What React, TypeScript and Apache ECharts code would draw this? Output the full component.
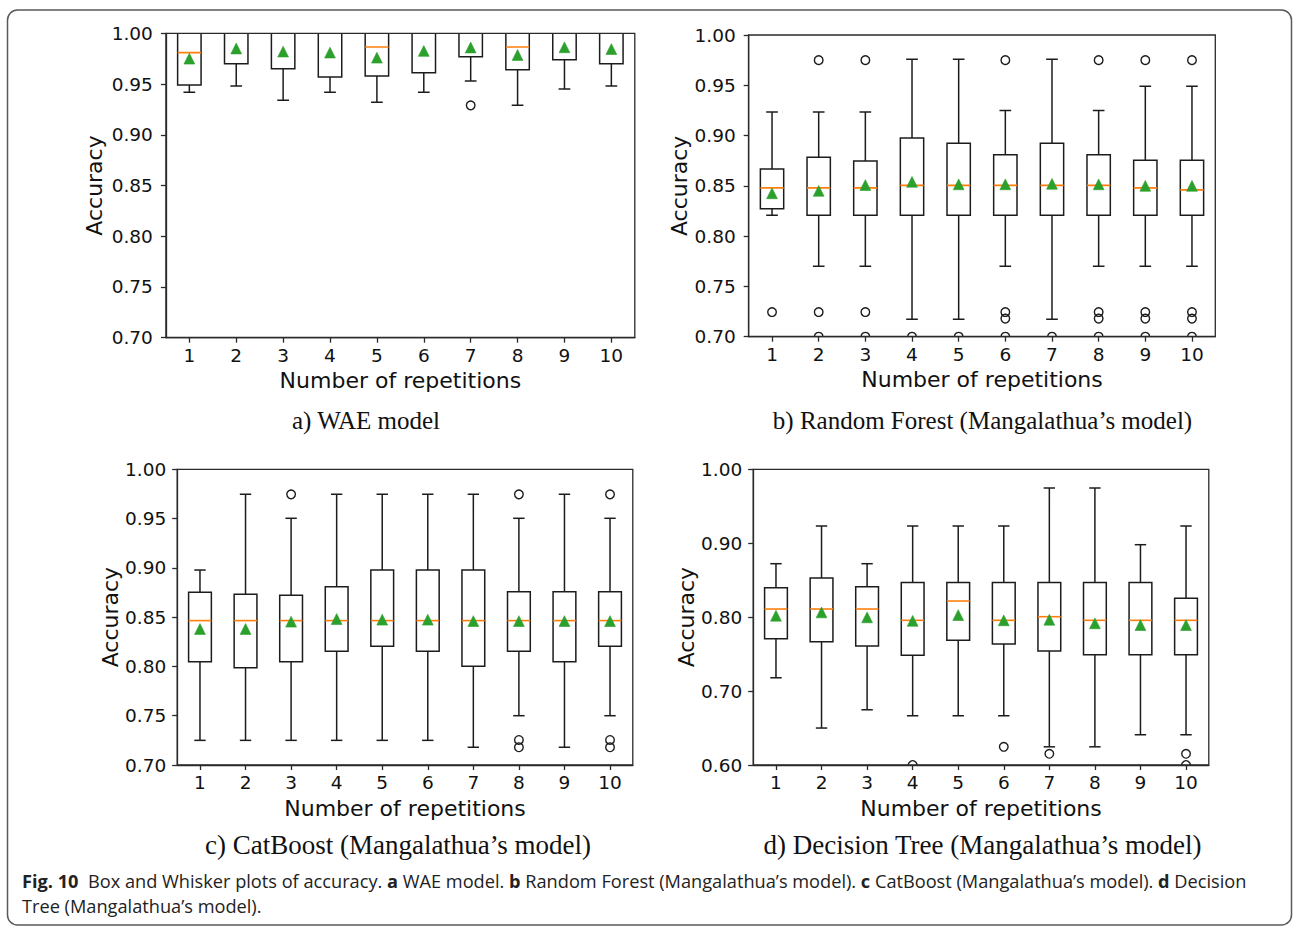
import React, { useEffect, useRef } from 'react';
import * as echarts from 'echarts';

// ---------- data ----------
const categories = ['1', '2', '3', '4', '5', '6', '7', '8', '9', '10'];
const yTicksTop = ['0.70', '0.75', '0.80', '0.85', '0.90', '0.95', '1.00'];
const yTicksDT = ['0.60', '0.70', '0.80', '0.90', '1.00'];

// a) WAE model
const waeLow = [0.942, 0.948, 0.934, 0.942, 0.932, 0.942, 0.953, 0.929, 0.945, 0.948];
const waeQ1 = [0.949, 0.970, 0.965, 0.957, 0.958, 0.961, 0.977, 0.964, 0.974, 0.970];
const waeMedian = [0.981, 1.0, 1.0, 1.0, 0.9865, 1.0, 1.0, 0.9865, 1.0, 1.0];
const waeQ3 = [1.0, 1.0, 1.0, 1.0, 1.0, 1.0, 1.0, 1.0, 1.0, 1.0];
const waeHigh = [1.0, 1.0, 1.0, 1.0, 1.0, 1.0, 1.0, 1.0, 1.0, 1.0];
const waeMean = [0.975, 0.985, 0.982, 0.981, 0.976, 0.9826, 0.986, 0.9786, 0.9862, 0.9845];
const waeOutliers = [[7, 0.929]]; // [repetition, accuracy]

// b) Random Forest
const rfLow = [0.8207, 0.770, 0.770, 0.7173, 0.7173, 0.770, 0.7173, 0.770, 0.770, 0.770];
const rfQ1 = [0.8273, 0.8207, 0.8207, 0.8207, 0.8207, 0.8207, 0.8207, 0.8207, 0.8207, 0.8207];
const rfMedian = [0.848, 0.848, 0.848, 0.8505, 0.8505, 0.8505, 0.8505, 0.8505, 0.848, 0.846];
const rfQ3 = [0.8667, 0.8784, 0.8747, 0.8976, 0.8923, 0.881, 0.8923, 0.881, 0.8754, 0.8754];
const rfHigh = [0.9234, 0.9234, 0.9234, 0.9758, 0.9758, 0.925, 0.9758, 0.925, 0.949, 0.949];
const rfMean = [0.8426, 0.845, 0.8508, 0.854, 0.8515, 0.8515, 0.852, 0.8515, 0.850, 0.850];
const rfOutliers = [
  [1, 0.7245],
  [2, 0.975], [2, 0.7245], [2, 0.70],
  [3, 0.975], [3, 0.7245], [3, 0.70],
  [4, 0.70],
  [5, 0.70],
  [6, 0.975], [6, 0.7245], [6, 0.718], [6, 0.70],
  [7, 0.70],
  [8, 0.975], [8, 0.7245], [8, 0.718], [8, 0.70],
  [9, 0.975], [9, 0.7245], [9, 0.718], [9, 0.70],
  [10, 0.975], [10, 0.7245], [10, 0.718], [10, 0.70],
];

// c) CatBoost
const cbLow = [0.725, 0.725, 0.725, 0.725, 0.725, 0.725, 0.718, 0.75, 0.718, 0.75];
const cbQ1 = [0.8048, 0.7987, 0.8048, 0.8153, 0.8204, 0.8153, 0.8001, 0.8153, 0.8048, 0.8204];
const cbMedian = [0.8465, 0.8465, 0.8465, 0.8465, 0.8465, 0.8465, 0.8465, 0.8465, 0.8465, 0.8465];
const cbQ3 = [0.8752, 0.8732, 0.8722, 0.8809, 0.8978, 0.8978, 0.8978, 0.8758, 0.8758, 0.8758];
const cbHigh = [0.8978, 0.9746, 0.9503, 0.9746, 0.9746, 0.9746, 0.9746, 0.9503, 0.9746, 0.9503];
const cbMean = [0.838, 0.838, 0.8454, 0.8481, 0.8474, 0.8474, 0.846, 0.846, 0.846, 0.846];
const cbOutliers = [
  [3, 0.9746],
  [8, 0.9746], [8, 0.7254], [8, 0.718],
  [10, 0.9746], [10, 0.7254], [10, 0.718],
];

// d) Decision Tree
const dtLow = [0.718, 0.650, 0.6747, 0.6666, 0.6666, 0.6666, 0.6246, 0.6246, 0.6409, 0.6409];
const dtQ1 = [0.7708, 0.7667, 0.761, 0.7483, 0.7686, 0.7636, 0.7541, 0.7491, 0.7491, 0.7491];
const dtMedian = [0.811, 0.811, 0.811, 0.7957, 0.8218, 0.7957, 0.8006, 0.7957, 0.7957, 0.7957];
const dtQ3 = [0.8398, 0.853, 0.8412, 0.847, 0.847, 0.847, 0.847, 0.847, 0.847, 0.8254];
const dtHigh = [0.8723, 0.9233, 0.8723, 0.9233, 0.9233, 0.9233, 0.9747, 0.9747, 0.898, 0.9233];
const dtMean = [0.8019, 0.8064, 0.7997, 0.795, 0.8028, 0.7957, 0.7965, 0.7916, 0.7893, 0.7893];
const dtOutliers = [
  [4, 0.60],
  [6, 0.6246],
  [7, 0.6152],
  [10, 0.6152], [10, 0.60],
];

const subtitles = [
  'a) WAE model',
  'b) Random Forest (Mangalathua\u2019s model)',
  'c) CatBoost (Mangalathua\u2019s model)',
  'd) Decision Tree (Mangalathua\u2019s model)',
];
const captionLine1 =
  '{b|Fig. 10}  Box and Whisker plots of accuracy. {b|a} WAE model. {b|b} Random Forest (Mangalathua\u2019s model). {b|c} CatBoost (Mangalathua\u2019s model). {b|d} Decision';
const captionLine2 = 'Tree (Mangalathua\u2019s model).';

// ---------- styling ----------
const BOX = '#1c1c1c';
const AXIS = '#2a2a2a';
const MEDIAN = '#ff7f0e';
const MEAN = '#2ca02c';
const SANS = 'DejaVu Sans';
const SERIF = '"Liberation Serif", "Times New Roman", serif';
const CAPTION_FONT = '"Open Sans"';
const CAPTION_SIZE = 18.2;

const panels = [
  { grid: { left: 165.9, top: 33.3, width: 468.9, height: 304.4 }, min: 0.7, max: 1.0, interval: 0.05, ticks: yTicksTop,
    low: waeLow, q1: waeQ1, med: waeMedian, q3: waeQ3, high: waeHigh, mean: waeMean, out: waeOutliers, fs: 18.5, nameGap: 60, labelMargin: 13 },
  { grid: { left: 748.7, top: 35, width: 466.6, height: 301.7 }, min: 0.7, max: 1.0, interval: 0.05, ticks: yTicksTop,
    low: rfLow, q1: rfQ1, med: rfMedian, q3: rfQ3, high: rfHigh, mean: rfMean, out: rfOutliers, fs: 18.5, nameGap: 58, labelMargin: 13 },
  { grid: { left: 177.2, top: 469.3, width: 455.6, height: 295.7 }, min: 0.7, max: 1.0, interval: 0.05, ticks: yTicksTop,
    low: cbLow, q1: cbQ1, med: cbMedian, q3: cbQ3, high: cbHigh, mean: cbMean, out: cbOutliers, fs: 18.5, nameGap: 56, labelMargin: 11 },
  { grid: { left: 753.2, top: 469.3, width: 455.6, height: 295.7 }, min: 0.6, max: 1.0, interval: 0.1, ticks: yTicksDT,
    low: dtLow, q1: dtQ1, med: dtMedian, q3: dtQ3, high: dtHigh, mean: dtMean, out: dtOutliers, fs: 18.5, nameGap: 56, labelMargin: 11 },
];

const boxRender = (params: any, api: any) => {
  const i = api.value(0);
  const band = api.size([1, 0])[0];
  const hw = band * 0.25;
  const cw = band * 0.125;
  const pLow = api.coord([i, api.value(1)]);
  const pQ1 = api.coord([i, api.value(2)]);
  const pMed = api.coord([i, api.value(3)]);
  const pQ3 = api.coord([i, api.value(4)]);
  const pHigh = api.coord([i, api.value(5)]);
  const pMean = api.coord([i, api.value(6)]);
  const x = pMed[0];
  const ls = { stroke: BOX, lineWidth: 1.5, fill: null };
  const m = 5.4;
  return {
    type: 'group',
    children: [
      { type: 'line', shape: { x1: x, y1: pQ1[1], x2: x, y2: pLow[1] }, style: ls },
      { type: 'line', shape: { x1: x - cw, y1: pLow[1], x2: x + cw, y2: pLow[1] }, style: ls },
      { type: 'line', shape: { x1: x, y1: pQ3[1], x2: x, y2: pHigh[1] }, style: ls },
      { type: 'line', shape: { x1: x - cw, y1: pHigh[1], x2: x + cw, y2: pHigh[1] }, style: ls },
      { type: 'rect', shape: { x: x - hw, y: pQ3[1], width: 2 * hw, height: pQ1[1] - pQ3[1] }, style: { fill: 'none', stroke: BOX, lineWidth: 1.5 } },
      { type: 'line', shape: { x1: x - hw, y1: pMed[1], x2: x + hw, y2: pMed[1] }, style: { stroke: MEDIAN, lineWidth: 1.6 } },
      { type: 'polygon', shape: { points: [[x, pMean[1] - m], [x - m, pMean[1] + m], [x + m, pMean[1] + m]] }, style: { fill: MEAN, stroke: MEAN, lineWidth: 0.6 } },
    ],
  };
};

const outRender = (params: any, api: any) => {
  const p = api.coord([api.value(0), api.value(1)]);
  return { type: 'circle', shape: { cx: p[0], cy: p[1], r: 4.3 }, style: { fill: 'none', stroke: BOX, lineWidth: 1.4 } };
};

export default function App() {
  const ref = useRef<HTMLDivElement>(null);
  useEffect(() => {
    if (!ref.current) return;
    const chart = echarts.init(ref.current, null, { renderer: 'svg' });
    const grids: any[] = [];
    const xAxes: any[] = [];
    const yAxes: any[] = [];
    const series: any[] = [];
    panels.forEach((p, k) => {
      grids.push({ ...p.grid, show: true, borderColor: AXIS, borderWidth: 1.3, backgroundColor: 'transparent', z: 5, containLabel: false });
      xAxes.push({
        type: 'category', gridIndex: k, data: categories, boundaryGap: true,
        name: 'Number of repetitions', nameLocation: 'middle', nameGap: 32,
        nameTextStyle: { fontFamily: SANS, fontSize: 22, color: '#111' },
        axisLine: { show: true, lineStyle: { color: AXIS, width: 1.3 } },
        axisTick: { show: true, alignWithLabel: true, length: 5, lineStyle: { color: AXIS, width: 1.3 } },
        axisLabel: { fontFamily: SANS, fontSize: p.fs, color: '#111', margin: 8 },
        splitLine: { show: false }, z: 5,
      });
      yAxes.push({
        type: 'value', gridIndex: k, min: p.min, max: p.max, interval: p.interval,
        name: 'Accuracy', nameLocation: 'middle', nameRotate: 90, nameGap: p.nameGap,
        nameTextStyle: { fontFamily: SANS, fontSize: 22, color: '#111' },
        axisLine: { show: true, lineStyle: { color: AXIS, width: 1.3 } },
        axisTick: { show: true, length: 5, lineStyle: { color: AXIS, width: 1.3 } },
        axisLabel: {
          fontFamily: SANS, fontSize: p.fs, color: '#111', margin: p.labelMargin,
          formatter: (v: number) => {
            const s = v.toFixed(2);
            return p.ticks.includes(s) ? s : '';
          },
        },
        splitLine: { show: false }, z: 5,
      });
      series.push({
        type: 'custom', xAxisIndex: k, yAxisIndex: k, clip: true, z: 2,
        renderItem: boxRender,
        encode: { x: 0, y: [1, 2, 3, 4, 5, 6] },
        data: categories.map((c, i) => [i, p.low[i], p.q1[i], p.med[i], p.q3[i], p.high[i], p.mean[i]]),
      });
      series.push({
        type: 'custom', xAxisIndex: k, yAxisIndex: k, clip: true, z: 2,
        renderItem: outRender,
        encode: { x: 0, y: 1 },
        data: p.out.map((o) => [o[0] - 1, o[1]]),
      });
    });

    const subPos = [
      { x: 366, y: 420, fs: 25 },
      { x: 982.5, y: 420, fs: 25 },
      { x: 398, y: 845, fs: 27 },
      { x: 982.5, y: 845, fs: 27 },
    ];
    const graphics: any[] = [
      { type: 'rect', shape: { x: 7.5, y: 10, width: 1284, height: 915, r: 10 }, style: { fill: 'none', stroke: '#5a5a5a', lineWidth: 1.5 }, silent: true },
      ...subtitles.map((t, k) => ({
        type: 'text', x: subPos[k].x, y: subPos[k].y,
        style: { text: t, fontFamily: SERIF, fontSize: subPos[k].fs, fill: '#111', textAlign: 'center', textVerticalAlign: 'middle' },
      })),
      {
        type: 'text', x: 22, y: 881,
        style: {
          text: captionLine1, fontFamily: CAPTION_FONT, fontSize: CAPTION_SIZE, fill: '#222', textVerticalAlign: 'middle',
          rich: { b: { fontFamily: CAPTION_FONT, fontSize: CAPTION_SIZE, fontWeight: 'bold', fill: '#222' } },
        },
      },
      {
        type: 'text', x: 22, y: 906,
        style: { text: captionLine2, fontFamily: CAPTION_FONT, fontSize: CAPTION_SIZE, fill: '#222', textVerticalAlign: 'middle' },
      },
    ];

    chart.setOption({
      animation: false,
      backgroundColor: '#ffffff',
      grid: grids,
      xAxis: xAxes,
      yAxis: yAxes,
      series,
      graphic: graphics,
    });
    return () => chart.dispose();
  }, []);
  return <div ref={ref} style={{ position: 'absolute', left: 0, top: 0, width: 1293, height: 927 }} />;
}
